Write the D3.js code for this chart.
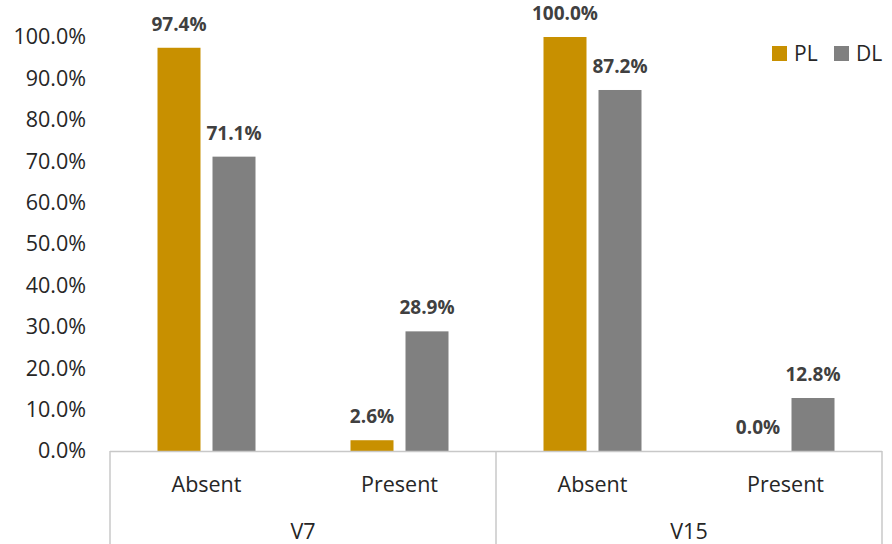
<!DOCTYPE html>
<html>
<head>
<meta charset="utf-8">
<script src="https://cdn.jsdelivr.net/npm/d3@7"></script>
<style>
  body { margin: 0; background: #fff; }
  text { font-family: "Open Sans", sans-serif; }
</style>
</head>
<body>
<svg id="chart" width="892" height="544"></svg>
<script>
// Data
var groups = ["V7", "V15"];
var categories = ["Absent", "Present"];
var seriesNames = ["PL", "DL"];
var plValues = [97.4, 2.6, 100.0, 0.0];
var dlValues = [71.1, 28.9, 87.2, 12.8];
var yTicks = [0, 10, 20, 30, 40, 50, 60, 70, 80, 90, 100];

//Colours
var gold = "#C89000";
var grey = "#808080";
var lineGrey = "#C8C8C8";

var width = 892;
var height = 544;
var plotLeft = 110, plotRight = 882, plotTop = 37, plotBottom = 451;

var svg = d3.select("#chart");

// one slot per group/category pair
var rows = [];
groups.forEach(function (g) {
    categories.forEach(function (c) {
        rows.push({ group: g, category: c, key: g + "|" + c });
    });
});
rows.forEach(function (r, i) {
    r.PL = plValues[i];
    r.DL = dlValues[i];
});

var xScale = d3.scaleBand()
    .domain(rows.map(d => d.key))
    .range([plotLeft, plotRight])
    .padding(0);

var slot = xScale.bandwidth();
var xSub = d3.scaleBand()
    .domain(seriesNames)
    .range([(slot - 98) / 2, (slot + 98) / 2])
    .paddingInner(12 / 55);

var yScale = d3.scaleLinear()
    .domain([0, 100])
    .range([plotBottom, plotTop]);

var colour = d3.scaleOrdinal().domain(seriesNames).range([gold, grey]);

// y axis (labels only)
var yAxis = d3.axisLeft(yScale)
    .tickValues(yTicks)
    .tickSize(0)
    .tickPadding(0)
    .tickFormat(d => d.toFixed(1) + "%");

var yG = svg.append("g")
    .attr("transform", "translate(86,0)")
    .call(yAxis);
yG.select(".domain").remove();
yG.selectAll("text")
    .style("font-size", "21.5px")
    .attr("fill", "#262626")
    .attr("font-family", "'Open Sans', sans-serif");

// bars
var slotG = svg.selectAll(".slot")
    .data(rows)
    .enter()
    .append("g")
    .attr("class", "slot")
    .attr("transform", d => "translate(" + xScale(d.key) + ",0)");

slotG.selectAll("rect")
    .data(d => seriesNames.map(s => ({ series: s, value: d[s] })))
    .enter()
    .append("rect")
    .attr("x", d => xSub(d.series))
    .attr("y", d => yScale(d.value))
    .attr("width", xSub.bandwidth())
    .attr("height", d => yScale(0) - yScale(d.value))
    .attr("fill", d => colour(d.series));

slotG.selectAll("text")
    .data(d => seriesNames.map(s => ({ series: s, value: d[s] })))
    .enter()
    .append("text")
    .attr("x", d => xSub(d.series) + xSub.bandwidth() / 2)
    .attr("y", d => yScale(d.value) - 17)
    .attr("text-anchor", "middle")
    .style("font-size", "19px")
    .style("font-weight", "bold")
    .attr("fill", "#404040")
    .text(d => d.value.toFixed(1) + "%");

// multi-level x axis
svg.append("line")
    .attr("x1", plotLeft).attr("x2", plotRight)
    .attr("y1", plotBottom + 0.5).attr("y2", plotBottom + 0.5)
    .attr("stroke", lineGrey)
    .attr("stroke-width", 1.5);

var groupScale = d3.scaleBand()
    .domain(groups)
    .range([plotLeft, plotRight]);

var seps = groups.map(g => groupScale(g)).concat([plotRight]);
svg.selectAll(".sep")
    .data(seps)
    .enter()
    .append("line")
    .attr("class", "sep")
    .attr("x1", d => d).attr("x2", d => d)
    .attr("y1", plotBottom).attr("y2", height)
    .attr("stroke", lineGrey)
    .attr("stroke-width", 1.5);

svg.selectAll(".catLabel")
    .data(rows)
    .enter()
    .append("text")
    .attr("class", "catLabel")
    .attr("x", d => xScale(d.key) + slot / 2)
    .attr("y", 492)
    .attr("text-anchor", "middle")
    .style("font-size", "21.5px")
    .attr("fill", "#262626")
    .text(d => d.category);

svg.selectAll(".groupLabel")
    .data(groups)
    .enter()
    .append("text")
    .attr("class", "groupLabel")
    .attr("x", d => groupScale(d) + groupScale.bandwidth() / 2)
    .attr("y", 539)
    .attr("text-anchor", "middle")
    .style("font-size", "21.5px")
    .attr("fill", "#262626")
    .text(d => d);

// legend
var legend = svg.append("g")
    .attr("transform", "translate(772,46)");

var legendX = [0, 62];
legend.selectAll("rect")
    .data(seriesNames)
    .enter()
    .append("rect")
    .attr("x", (d, i) => legendX[i])
    .attr("y", 0)
    .attr("width", 15)
    .attr("height", 15)
    .attr("fill", d => colour(d));

legend.selectAll("text")
    .data(seriesNames)
    .enter()
    .append("text")
    .attr("x", (d, i) => legendX[i] + 22)
    .attr("y", 15)
    .style("font-size", "21px")
    .attr("fill", "#262626")
    .text(d => d);
</script>
</body>
</html>
